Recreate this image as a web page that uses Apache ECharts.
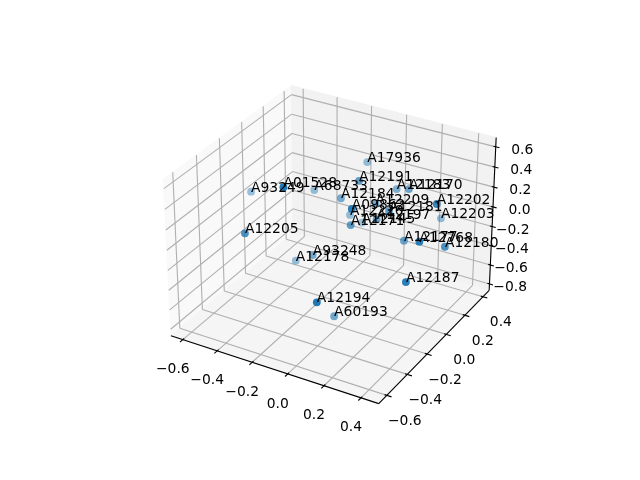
<!DOCTYPE html>
<html>
<head>
<meta charset="utf-8">
<style>html,body{margin:0;padding:0;background:#fff}#chart{width:640px;height:480px}</style>
<script src="https://cdn.jsdelivr.net/npm/echarts@6/dist/echarts.min.js"></script>
</head>
<body>
<div id="chart"></div>
<script>
var names=['A17936','A12191','A68733','A01528','A93249','A12184','A12183','A12170','A12209','A12202','A12203','A12181','A09862','A12220','A12197','A12145','A12171','A12177','A12768','A12180','A93248','A12178','A12205','A12194','A60193','A12187'];
var xs=[-0.191,-0.046,-0.388,-0.156,-0.662,-0.165,0.033,0.146,-0.009,0.427,0.216,0.118,0.115,-0.200,0.045,-0.169,-0.027,0.188,0.429,0.455,-0.216,-0.380,-0.396,0.114,-0.036,0.422];
var ys=[0.416,0.077,0.223,-0.443,0.058,0.107,0.319,0.236,0.180,-0.010,0.456,0.087,-0.274,0.259,0.095,0.326,-0.036,0.116,-0.183,0.034,-0.082,0.024,-0.413,-0.596,-0.180,-0.296];
var zs=[0.172,0.335,-0.047,0.663,-0.056,0.078,0.086,0.212,0.034,0.415,-0.243,0.108,0.443,-0.243,-0.019,-0.368,0.002,-0.182,0.205,-0.030,-0.358,-0.602,0.070,-0.167,-0.801,-0.089];
var xTicks=[-0.6,-0.4,-0.2,0,0.2,0.4], yTicks=[-0.6,-0.4,-0.2,0,0.2,0.4], zTicks=[-0.8,-0.6,-0.4,-0.2,0,0.2,0.4,0.6];
var xLim=[-0.67,0.495], yLim=[-0.677,0.471], zLim=[-0.868,0.691];

// same camera as a default mplot3d view (elev 30, azim -60)
var boxHalf=[0.5952,0.5952,0.4464], dist=10;
var pxScale=2000, cx=333, cy=237;
var U=[0.8660,0.5,0], V=[-0.25,0.4330,0.8660], W=[0.4330,-0.75,0.5];
function dot(a,b){return a[0]*b[0]+a[1]*b[1]+a[2]*b[2];}
function box(x,y,z){return [(x-xLim[0])/(xLim[1]-xLim[0])*2*boxHalf[0]-boxHalf[0],(y-yLim[0])/(yLim[1]-yLim[0])*2*boxHalf[1]-boxHalf[1],(z-zLim[0])/(zLim[1]-zLim[0])*2*boxHalf[2]-boxHalf[2]];}
function proj(x,y,z){var p=box(x,y,z),d=dist-dot(p,W);return [dot(p,U)/d,dot(p,V)/d];}
// depth shading: nearer points are more opaque
function shade(x,y,z){var w=dot(box(x,y,z),W);return Math.max(0.3,Math.min(1,0.3+0.7*(w+0.6)/1.05));}
function fmt(t){return (t<0?'\u2212':'')+Math.abs(t).toFixed(1);}

var x0=xLim[0],x1=xLim[1],y0=yLim[0],y1=yLim[1],z0=zLim[0],z1=zLim[1];
var panes=[
 {c:'#f9f9f9',p:[[x0,y0,z0],[x0,y1,z0],[x0,y1,z1],[x0,y0,z1]]},
 {c:'#f2f2f2',p:[[x0,y1,z0],[x1,y1,z0],[x1,y1,z1],[x0,y1,z1]]},
 {c:'#f5f5f5',p:[[x0,y0,z0],[x1,y0,z0],[x1,y1,z0],[x0,y1,z0]]}
];
function seg(a,b){var p=proj(a[0],a[1],a[2]),q=proj(b[0],b[1],b[2]);return [p[0],p[1],q[0],q[1]];}
var gridSegs=[],axisSegs=[],tickText=[];
xTicks.forEach(function(t){
 gridSegs.push(seg([t,y0,z0],[t,y1,z0]),seg([t,y1,z0],[t,y1,z1]));
 axisSegs.push(seg([t,y0-0.025,z0],[t,y0+0.012,z0]));
 tickText.push({value:proj(t,y0,z0),t:fmt(t),dx:-10,dy:30,a:'center'});
});
yTicks.forEach(function(t){
 gridSegs.push(seg([x1,t,z0],[x0,t,z0]),seg([x0,t,z0],[x0,t,z1]));
 axisSegs.push(seg([x1-0.012,t,z0],[x1+0.025,t,z0]));
 tickText.push({value:proj(x1,t,z0),t:fmt(t),dx:18,dy:26,a:'center'});
});
zTicks.forEach(function(t){
 gridSegs.push(seg([x0,y0,t],[x0,y1,t]),seg([x0,y1,t],[x1,y1,t]));
 axisSegs.push(seg([x1-0.012,y1,t],[x1+0.02,y1,t]));
 tickText.push({value:proj(x1,y1,t),t:fmt(t),dx:37.5,dy:3.5,a:'right'});
});
axisSegs.push(seg([x0,y0,z0],[x1,y0,z0]),seg([x1,y0,z0],[x1,y1,z0]),seg([x1,y1,z0],[x1,y1,z1]));

var FONT='13.89px "DejaVu Sans"';
function lineSeries(segs,color,w,z){
 return {type:'custom',silent:true,animation:false,clip:false,z:z,data:segs,
  renderItem:function(params,api){
   var a=api.coord([api.value(0),api.value(1)]),b=api.coord([api.value(2),api.value(3)]);
   return {type:'line',shape:{x1:a[0],y1:a[1],x2:b[0],y2:b[1]},style:{stroke:color,lineWidth:w}};
  }};
}
var pts=names.map(function(n,i){
 return {name:n,value:proj(xs[i],ys[i],zs[i]),itemStyle:{opacity:shade(xs[i],ys[i],zs[i])}};
});
var chart=echarts.init(document.getElementById('chart'),null,{renderer:'canvas'});
chart.setOption({
 animation:false,backgroundColor:'#fff',
 grid:{left:0,right:0,top:0,bottom:0},
 xAxis:{type:'value',min:-cx/pxScale,max:(640-cx)/pxScale,show:false},
 yAxis:{type:'value',min:(cy-480)/pxScale,max:cy/pxScale,show:false},
 series:[
  {type:'custom',silent:true,animation:false,clip:false,z:1,data:panes.map(function(p,i){return [i];}),encode:{x:-1,y:-1},
   renderItem:function(params,api){
    var pn=panes[params.dataIndex];
    return {type:'polygon',shape:{points:pn.p.map(function(c){return api.coord(proj(c[0],c[1],c[2]));})},style:{fill:pn.c,stroke:pn.c,lineWidth:1}};
   }},
  lineSeries(gridSegs,'#b0b0b0',1.11,2),
  lineSeries(axisSegs,'#000',1.11,3),
  {type:'custom',silent:true,animation:false,clip:false,z:4,data:tickText.map(function(t){return t.value;}),
   renderItem:function(params,api){
    var c=api.coord([api.value(0),api.value(1)]),t=tickText[params.dataIndex];
    return {type:'text',style:{text:t.t,x:c[0]+t.dx,y:c[1]+t.dy,font:FONT,fill:'#000',align:t.a,verticalAlign:'middle'}};
   }},
  {type:'scatter',silent:true,z:5,symbolSize:7.8,data:pts,itemStyle:{color:'#1f77b4',borderWidth:0}},
  {type:'custom',silent:true,animation:false,clip:false,z:6,data:pts.map(function(p){return p.value;}),
   renderItem:function(params,api){
    var c=api.coord([api.value(0),api.value(1)]);
    return {type:'text',style:{text:names[params.dataIndex],x:c[0],y:c[1]-3.5,font:FONT,fill:'#000',align:'left',verticalAlign:'middle'}};
   }}
 ]
});
</script>
</body>
</html>
